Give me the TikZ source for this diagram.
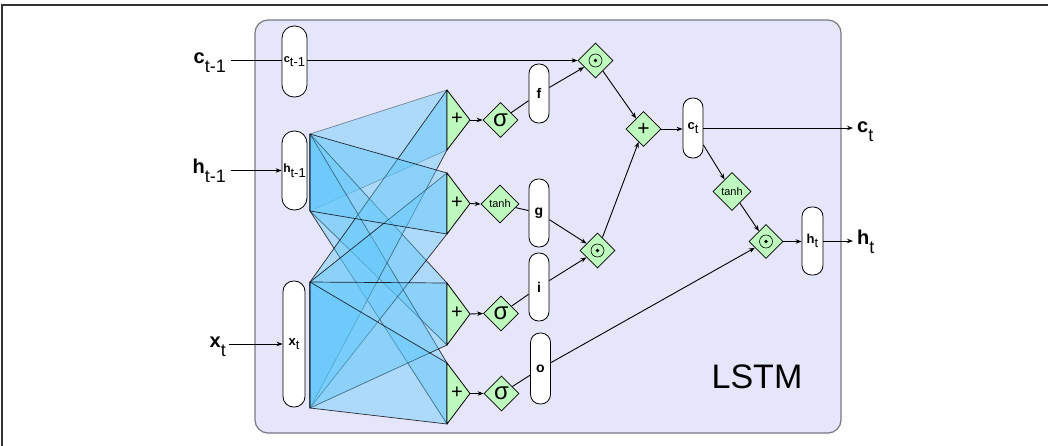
\documentclass[tikz,border=0pt]{standalone}
\usepackage{fontspec}
\setmainfont{Liberation Sans}
\usetikzlibrary{shapes.geometric,arrows.meta}
\pgfdeclarelayer{back}
\pgfdeclarelayer{mid}
\pgfsetlayers{back,mid,main}
\definecolor{lstmbg}{RGB}{230,230,250}
\definecolor{lstmedge}{RGB}{120,120,135}
\definecolor{opgreen}{RGB}{190,250,190}
\definecolor{fanblue}{RGB}{95,200,252}
\newcommand\fs[1]{\fontsize{#1}{#1}\selectfont}
\newcommand\biglab[2]{{\fs{20}\bfseries #1}{\fs{18}\raisebox{-9pt}{#2}}}
\newcommand\barlab[3]{{\fs{#1}\bfseries #2}{\fs{13}\raisebox{-4.5pt}{#3}}}
\begin{document}
\begin{tikzpicture}[x=1pt,y=-1pt,
  conn/.style={line width=0.9pt, draw=black},
  arr/.style={conn, -{Stealth[length=6pt,width=4.5pt]}},
  vbar/.style={draw, fill=white, line width=0.8pt, rounded corners=9.5pt, inner sep=0pt, minimum width=20pt},
  op/.style={diamond, draw, fill=opgreen, line width=0.8pt, inner sep=0pt, minimum width=35pt, minimum height=35pt},
  mult/.style={op, path picture={
      \draw[black, line width=0.6pt] (path picture bounding box.center) circle (6.5pt);
      \fill[black] (path picture bounding box.center) circle (1.9pt);}},
  gatetri/.style={draw, fill=opgreen, line width=0.8pt, line join=round},
  fan/.style={fill=fanblue, fill opacity=0.42, draw=black, draw opacity=0.8, line width=0.7pt, line join=round},
  plus/.style={font=\fs{20}, inner sep=0pt}
]
\useasboundingbox (0,0) rectangle (1053,445);

% frame and LSTM container
\begin{pgfonlayer}{back}
  \draw[line width=1.6pt, black!80] (2,446) -- (2,5) -- (1048,5);
  \draw[fill=lstmbg, draw=lstmedge, line width=1.2pt, rounded corners=13pt] (255,20) rectangle (841,433);
\end{pgfonlayer}
\node[font=\fs{34}] (lstmlab) at (757,377) {LSTM};

% input labels
\node[anchor=base east, inner sep=0pt] (labc) at (226,63) {\biglab{c}{t-1}};
\node[anchor=base east, inner sep=0pt] (labh) at (226,173) {\biglab{h}{t-1}};
\node[anchor=base east, inner sep=0pt] (labx) at (226,347) {\biglab{x}{t}};

% input bars
\node[vbar, minimum width=25pt, minimum height=71pt, rounded corners=12pt] (cprev) at (294.5,61.5) {\barlab{11}{c}{t-1}};
\node[vbar, minimum width=25pt, minimum height=79pt, rounded corners=12pt] (hprev) at (294.5,170.5) {\barlab{12}{h}{t-1}};
\node[vbar, minimum width=22pt, minimum height=126pt, rounded corners=10.5pt] (xbar) at (294,344) {\barlab{13}{x}{t}};

% fan and gate coordinates
\coordinate (hT) at (310,134); \coordinate (hB) at (310,211);
\coordinate (xT) at (310,282); \coordinate (xB) at (310,408);
\coordinate (fT) at (447,90);  \coordinate (fB) at (447,150); \coordinate (fP) at (470,120);
\coordinate (gT) at (447,173); \coordinate (gB) at (447,234); \coordinate (gP) at (470,203.5);
\coordinate (iT) at (447,283); \coordinate (iB) at (447,345); \coordinate (iP) at (470,314);
\coordinate (oT) at (447,363); \coordinate (oB) at (447,424); \coordinate (oP) at (470,393.5);

\path[fan, draw opacity=0.4] (hT) -- (fT) -- (fB) -- (hB) -- cycle;
\path[fan] (hT) -- (iT) -- (iB) -- (hB) -- cycle;
\path[fan] (hT) -- (oT) -- (oB) -- (hB) -- cycle;
\path[fan] (xT) -- (fT) -- (fB) -- (xB) -- cycle;
\path[fan] (xT) -- (gT) -- (gB) -- (xB) -- cycle;
\path[fan] (xT) -- (iT) -- (iB) -- (xB) -- cycle;
\path[fan] (hT) -- (gT) -- (gB) -- (hB) -- cycle;
\path[fan] (xT) -- (oT) -- (oB) -- (xB) -- cycle;

% gate summation triangles
\draw[gatetri] (fT) -- (fP) -- (fB) -- cycle;
\draw[gatetri] (gT) -- (gP) -- (gB) -- cycle;
\draw[gatetri] (iT) -- (iP) -- (iB) -- cycle;
\draw[gatetri] (oT) -- (oP) -- (oB) -- cycle;
\node[plus] (pf) at (457,119) {+};
\node[plus] (pg) at (457,202.5) {+};
\node[plus] (pi) at (457,313) {+};
\node[plus] (po) at (457,392.5) {+};

% activations
\node[op] (sigf) at (500.5,120) {\fs{24}σ};
\node[op, minimum width=38pt, minimum height=38pt] (tanhg) at (500,204) {\fs{11}tanh};
\node[op] (sigi) at (501,313.5) {\fs{24}σ};
\node[op] (sigo) at (501.5,393.5) {\fs{24}σ};

% gate bars
\node[vbar, minimum height=59pt] (fbar) at (539,93.5) {\fs{14}\bfseries f};
\node[vbar, minimum height=68pt] (gbar) at (539,213) {\fs{14}\bfseries g};
\node[vbar, minimum height=68pt] (ibar) at (539,287) {\fs{14}\bfseries i};
\node[vbar, minimum height=71pt] (obar) at (540.5,368.5) {\fs{14}\bfseries o};

% cell operations
\node[mult] (m1) at (595.5,60.5) {};
\node[mult] (m2) at (597.5,250.5) {};
\node[op] (add) at (643.5,129) {\fs{21}+};
\node[vbar, minimum height=60pt] (ctbar) at (693,128) {\barlab{13}{c}{t}};
\node[op, minimum width=38pt, minimum height=38pt] (tanhc) at (732,191.5) {\fs{11}tanh};
\node[mult, minimum width=34pt, minimum height=34pt] (m3) at (766,241.5) {};
\node[vbar, minimum width=21pt, minimum height=68pt] (htbar) at (812.5,241) {\barlab{13}{h}{t}};

% output labels
\node[anchor=base west, inner sep=0pt] (labct) at (857,132) {\biglab{c}{t}};
\node[anchor=base west, inner sep=0pt] (labht) at (857,244) {\biglab{h}{t}};

% connectors
\begin{pgfonlayer}{mid}
  \draw[arr] ([xshift=5pt]labc.east |- m1.west) -- (m1.west);
\end{pgfonlayer}
\draw[arr] ([xshift=5pt]labh.east |- hprev.west) -- (hprev.west);
\draw[arr] ([xshift=3pt]labx.east |- xbar.west) -- (xbar.west);

\draw[arr] (fP) -- (sigf.west);
\draw[arr] (gP) -- (tanhg.west);
\draw[arr] (iP) -- (sigi.west);
\draw[arr] (oP) -- (sigo.west);

\draw[conn] (sigf) -- (fbar);
\draw[conn] (tanhg) -- (gbar);
\draw[conn] (sigi) -- (ibar);
\draw[conn] (sigo) -- (obar);

\draw[arr] (fbar) -- (m1);
\draw[arr] (gbar) -- (m2);
\draw[arr] (ibar) -- (m2);
\draw[arr] (obar) -- (m3);
\draw[arr] (m1) -- (add);
\draw[arr] (m2) -- (add);
\draw[arr] (add.east) -- (add.east -| ctbar.west);
\draw[arr] (ctbar.east) -- ([xshift=-4pt]labct.west |- ctbar.east);
\draw[arr] (ctbar) -- (tanhc);
\draw[arr] (tanhc) -- (m3);
\draw[arr] (m3.east) -- (m3.east -| htbar.west);
\draw[arr] (htbar.east) -- ([xshift=-4pt]labht.west |- htbar.east);
\end{tikzpicture}
\end{document}
